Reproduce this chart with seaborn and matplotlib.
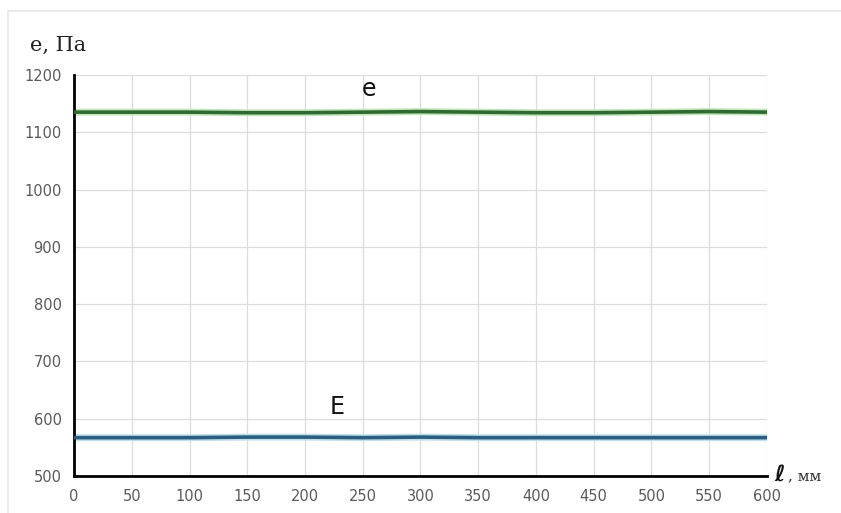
import numpy as np
import pandas as pd
import matplotlib
matplotlib.use('Agg')
import matplotlib.pyplot as plt
import seaborn as sns

# значения
l_mm = [0, 50, 100, 150, 200, 250, 300, 350, 400, 450, 500, 550, 600]
e_vals = [1135, 1135, 1135, 1134, 1134, 1135, 1136, 1135, 1134, 1134, 1135, 1136, 1135]
E_vals = [567, 567, 567, 568, 568, 567, 568, 567, 567, 567, 567, 567, 567]
x_ticks = list(range(0, 601, 50))
y_ticks = list(range(500, 1201, 100))

df = pd.DataFrame({'l': l_mm, 'e': e_vals, 'E': E_vals})

sns.set_style('white')
plt.rcParams['font.family'] = ['DejaVu Sans']

fig = plt.figure(figsize=(8.41, 5.13), dpi=100)
ax = fig.add_axes([0.088, 0.072, 0.824, 0.782])

# светлый ореол под линиями
ax.plot(df['l'], df['e'], color='#c4e6bc', lw=5, zorder=2)
ax.plot(df['l'], df['E'], color='#bfdeee', lw=5, zorder=2)
sns.lineplot(data=df, x='l', y='e', color='#2f6a32', lw=2.6, ax=ax, zorder=3)
sns.lineplot(data=df, x='l', y='E', color='#2b5e7e', lw=2.6, ax=ax, zorder=3)

ax.set_xlim(0, 600)
ax.set_ylim(500, 1200)
ax.set_xticks(x_ticks)
ax.set_yticks(y_ticks)
ax.grid(True, color='#dcdcdc', lw=0.9)
ax.tick_params(axis='both', length=0, labelsize=10.5, labelcolor='#5a5a5a', pad=9)
ax.set_xlabel('')
ax.set_ylabel('')

for s in ['top', 'right']:
    ax.spines[s].set_visible(False)
for s in ['left', 'bottom']:
    ax.spines[s].set_color('black')
    ax.spines[s].set_linewidth(2)

ax.text(255, 1175, 'e', fontsize=17, ha='center', va='center', color='#111111')
ax.text(228, 620, 'E', fontsize=17, ha='center', va='center', color='#111111')

fig.text(0.036, 0.912, 'e, Па', fontsize=15, family='DejaVu Serif', color='#222222', va='center')
fig.text(0.921, 0.074, 'ℓ', fontsize=16, family=['DejaVu Sans'], style='oblique',
         weight='bold', color='#111111', va='center')
fig.text(0.937, 0.072, ', мм', fontsize=11, family='DejaVu Serif', color='#333333', va='center')

# тонкая рамка вокруг рисунка
fig.patches.append(plt.Rectangle((0.009, -0.01), 1.0, 0.988, transform=fig.transFigure,
                                 fill=False, ec='#e6e6e6', lw=1.2))

fig.savefig('out.png', dpi=100)
